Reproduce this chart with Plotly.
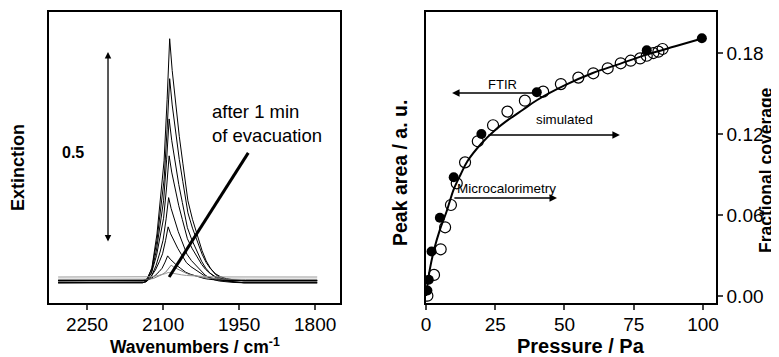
import plotly.graph_objects as go

# ---------------- Left panel: IR spectra ----------------
# normalised band profile (wavenumber, relative extinction)
profile_wn = [2307, 2140, 2132, 2122, 2112, 2104, 2098, 2092, 2087, 2082, 2076, 2068,
              2061, 2051, 2042, 2033, 2023, 2015, 2007, 1997, 1987, 1975, 1960, 1940, 1796]
profile_rel = [0, 0, 0.008, 0.061, 0.20, 0.36, 0.50, 0.75, 1.0, 0.87, 0.745, 0.60,
               0.49, 0.336, 0.26, 0.20, 0.131, 0.09, 0.061, 0.035, 0.02, 0.01, 0.004, 0, 0]
# individual spectra: peak height, peak position, baseline offset, colour
peak_heights = [0.639, 0.529, 0.429, 0.327, 0.223, 0.141, 0.065, 0.037, 0.012]
peak_positions = [2087, 2087, 2088, 2088, 2089, 2090, 2091, 2084, 2090]
baselines = [-0.002, 0.0034, -0.002, 0.0034, -0.002, 0.0034, 0.0034, 0.007, 0.013]
spec_colors = ["#000", "#000", "#000", "#000", "#000", "#000", "#000", "#777", "#999"]

wn_ticks = [2250, 2100, 1950, 1800]

# ---------------- Right panel: isotherm ----------------
ftir_p = [0.5, 1.0, 2.0, 5.0, 10.0, 20.0, 40.0, 79.7, 99.6]
ftir_cov = [0.004, 0.012, 0.033, 0.058, 0.088, 0.120, 0.151, 0.182, 0.191]

calo_p = [0.5, 2.9, 5.3, 6.9, 9.0, 11.1, 14.1, 18.7, 24.2, 29.4, 35.7, 42.3, 48.7, 55.0,
          60.4, 65.6, 70.3, 73.9, 77.3, 79.7, 82.1, 83.9, 85.4]
calo_cov = [0.0002, 0.0156, 0.0346, 0.0509, 0.0674, 0.0835, 0.099, 0.1146, 0.1265, 0.1366,
            0.1447, 0.1514, 0.157, 0.1618, 0.165, 0.1687, 0.1724, 0.1743, 0.176, 0.178,
            0.180, 0.181, 0.183]

sim_p = [0, 0.5, 1.5, 3, 5, 7.5, 10, 12.5, 15, 20, 25, 30, 35, 40, 50, 60, 70, 80, 90, 100]
sim_cov = [0, 0.008, 0.021, 0.035, 0.049, 0.063, 0.079, 0.090, 0.100, 0.113, 0.123, 0.131,
           0.138, 0.145, 0.156, 0.165, 0.172, 0.179, 0.185, 0.191]

p_ticks = [0, 25, 50, 75, 100]
cov_ticks = [0.00, 0.06, 0.12, 0.18]

FONT = "Liberation Sans, Arial, sans-serif"
W, H = 771, 349   # page body has an 8 px margin; figure fills the rest of the 779x357 window


def px(xp):   # page x pixel -> paper fraction
    return (xp - 8) / W


def py(yp):   # page y pixel -> paper fraction (plot area spans page y 12..303)
    return (303 - yp) / 291


fig = go.Figure()

peak_ref = profile_wn[profile_rel.index(max(profile_rel))]
for h, pos, b, c in zip(peak_heights, peak_positions, baselines, spec_colors):
    xs = [w + (pos - peak_ref) if 1800 < w < 2300 else w for w in profile_wn]
    ys = [b + h * r for r in profile_rel]
    fig.add_trace(go.Scatter(x=xs, y=ys, mode="lines", line=dict(color=c, width=1),
                             xaxis="x", yaxis="y", showlegend=False, hoverinfo="skip"))

fig.add_trace(go.Scatter(x=sim_p, y=sim_cov, mode="lines", line=dict(color="#000", width=2, shape="spline"),
                         xaxis="x2", yaxis="y2", showlegend=False))
fig.add_trace(go.Scatter(x=calo_p, y=calo_cov, mode="markers",
                         marker=dict(symbol="circle-open", size=11, color="#000", line=dict(width=1.2)),
                         xaxis="x2", yaxis="y2", showlegend=False))
fig.add_trace(go.Scatter(x=ftir_p, y=ftir_cov, mode="markers",
                         marker=dict(symbol="circle", size=10, color="#000"),
                         xaxis="x2", yaxis="y2", showlegend=False))

axis_common = dict(showline=True, linecolor="#000", linewidth=1.5, mirror=True,
                   showgrid=False, zeroline=False, automargin=False)

fig.update_layout(
    width=W, height=H,
    margin=dict(l=0, r=0, t=4, b=54, pad=0, autoexpand=False),
    paper_bgcolor="white", plot_bgcolor="white",
    font=dict(family=FONT, color="#000"),
    xaxis=dict(domain=[px(49), px(340)], range=[2325, 1751], tickvals=wn_ticks,
               ticks="outside", ticklen=5, tickwidth=1.5, tickfont=dict(size=19),
               ticklabelstandoff=-2, anchor="y", **axis_common),
    yaxis=dict(domain=[0, 1], range=[-0.055, 0.707], showticklabels=False, ticks="",
               anchor="x", **axis_common),
    xaxis2=dict(domain=[px(426), px(716)], range=[0, 104.7], tickvals=p_ticks,
                ticks="outside", ticklen=5, tickwidth=1.5, tickfont=dict(size=19),
                ticklabelstandoff=-2, anchor="y2", **axis_common),
    yaxis2=dict(domain=[0, 1], range=[-0.0052, 0.2104], tickvals=cov_ticks, tickformat=".2f",
                side="right", ticks="outside", ticklen=5, tickwidth=1.5, tickfont=dict(size=19),
                anchor="x2", **axis_common),
)

ann = []
# scale bar double arrow
ann.append(dict(x=2208.6, y=0.602, ax=2208.6, ay=0.102, xref="x", yref="y", axref="x", ayref="y",
                text="", showarrow=True, arrowhead=2, startarrowhead=2, arrowside="end+start",
                arrowsize=1, arrowwidth=1.3, arrowcolor="#000"))
ann.append(dict(x=2278, y=0.340, xref="x", yref="y", text="<b>0.5</b>", showarrow=False,
                font=dict(size=16)))
ann.append(dict(x=2007, y=0.414, xref="x", yref="y", text="after 1 min<br>of evacuation",
                showarrow=False, xanchor="left", yanchor="middle", align="left", font=dict(size=18.5)))
# right panel arrows & labels
ann.append(dict(x=9.4, y=0.1504, ax=39.4, ay=0.1504, xref="x2", yref="y2", axref="x2", ayref="y2",
                text="", showarrow=True, arrowhead=2, arrowsize=1, arrowwidth=1.5, arrowcolor="#000"))
ann.append(dict(x=70, y=0.1193, ax=22, ay=0.1193, xref="x2", yref="y2", axref="x2", ayref="y2",
                text="", showarrow=True, arrowhead=2, arrowsize=1, arrowwidth=1.5, arrowcolor="#000"))
ann.append(dict(x=47.3, y=0.0726, ax=9.7, ay=0.0726, xref="x2", yref="y2", axref="x2", ayref="y2",
                text="", showarrow=True, arrowhead=2, arrowsize=1, arrowwidth=1.5, arrowcolor="#000"))
ann.append(dict(x=27.6, y=0.157, xref="x2", yref="y2", text="FTIR", showarrow=False, font=dict(size=13)))
ann.append(dict(x=50, y=0.131, xref="x2", yref="y2", text="simulated", showarrow=False, font=dict(size=13.3)))
ann.append(dict(x=29.2, y=0.080, xref="x2", yref="y2", text="Microcalorimetry", showarrow=False,
                font=dict(size=13.5)))
# axis titles
titles = [
    (18, 168, "<b>Extinction</b>", -90, 18),
    (195, 346, "<b>Wavenumbers / cm<sup>-1</sup></b>", 0, 17.5),
    (581, 346, "<b>Pressure / Pa</b>", 0, 20),
    (400, 173, "<b>Peak area / a. u.</b>", -90, 19.5),
    (766, 170, "<b>Fractional coverage</b>", -90, 17.5),
]
for tx, ty, text, angle, size in titles:
    ann.append(dict(x=px(tx), y=py(ty), xref="paper", yref="paper", text=text, textangle=angle,
                    xanchor="center", yanchor="middle", showarrow=False, font=dict(size=size)))
fig.update_layout(annotations=ann)

# pointer line for "after 1 min of evacuation"
fig.add_shape(type="line", x0=1932, y0=0.338, x1=2088, y1=0.013, xref="x", yref="y",
              line=dict(color="#000", width=3))

fig.write_html("out.html")
